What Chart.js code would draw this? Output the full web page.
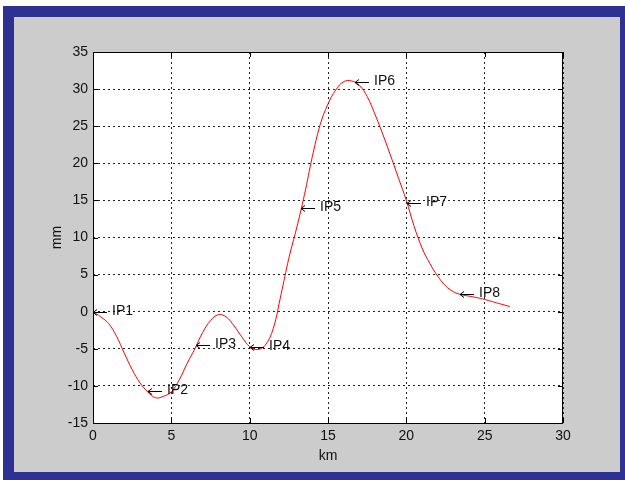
<!DOCTYPE html>
<html>
<head>
<meta charset="utf-8">
<script src="https://cdn.jsdelivr.net/npm/chart.js@4/dist/chart.umd.min.js"></script>
<style>
  html, body { margin: 0; padding: 0; background: #ffffff; }
  canvas { display: block; }
</style>
</head>
<body>
<canvas id="profile" width="625" height="480"></canvas>
<script>
// Profile along the route: distance (km) and offset (mm)
const distanceKm = [0, 0.5, 1.0, 1.5, 2.0, 2.5, 3.0, 3.5, 4.0, 4.5, 5.0, 5.5, 6.0, 6.5, 7.0, 7.5, 8.0, 8.5, 9.0, 9.5, 10.0, 10.5, 11.0, 11.5, 12.0, 12.5, 13.0, 13.5, 14.0, 14.5, 15.0, 15.5, 16.0, 16.5, 17.0, 17.5, 18.0, 18.5, 19.0, 19.5, 20.0, 20.5, 21.0, 21.5, 22.0, 22.5, 23.0, 23.5, 24.0, 24.5, 25.0, 25.5, 26.0, 26.6];
const offsetMm   = [0, -0.7, -1.6, -3.3, -5.6, -7.8, -9.6, -10.8, -11.6, -11.4, -10.8, -9.2, -7.0, -5.0, -2.8, -1.2, -0.4, -0.7, -1.9, -3.4, -4.7, -5.1, -4.5, -2.3, 2.3, 7.2, 11.3, 15.8, 20.9, 25.2, 28.0, 29.9, 31.0, 31.1, 30.5, 29.0, 26.6, 23.9, 21.0, 18.0, 15.0, 11.5, 8.6, 6.5, 4.8, 3.5, 2.7, 2.3, 2.1, 1.9, 1.65, 1.35, 1.05, 0.7];

// Labelled inflection points
const pointNames = ['IP1', 'IP2', 'IP3', 'IP4', 'IP5', 'IP6', 'IP7', 'IP8'];
const pointKm    = [0, 3.5, 6.6, 10.0, 13.3, 16.7, 20.05, 23.4];
const pointMm    = [0, -10.7, -4.5, -4.8, 14.0, 30.9, 14.7, 2.4];

// Axis ranges and tick spacing
const xRange = [0, 30];
const yRange = [-15, 35];
const tickStep = 5;

const FONT = "'Liberation Sans', Arial, Helvetica, sans-serif";
const TEXT = '#111111';

// Window frame, axes box, titles and point labels
const framePlugin = {
  id: 'frame',
  beforeDraw(chart) {
    const { ctx, chartArea: a } = chart;
    ctx.save();
    ctx.fillStyle = '#ffffff';
    ctx.fillRect(0, 0, chart.width, chart.height);
    ctx.fillStyle = '#2e3192';
    ctx.fillRect(3, 6, chart.width - 3, chart.height - 6);
    ctx.fillStyle = '#cccccc';
    ctx.fillRect(14, 17, 606, 455);
    ctx.fillStyle = '#ffffff';
    ctx.fillRect(a.left, a.top, a.right - a.left, a.bottom - a.top);
    ctx.restore();
  },
  beforeDatasetsDraw(chart) {
    const { ctx, chartArea: a, scales } = chart;
    ctx.save();
    ctx.strokeStyle = '#000000';
    ctx.lineWidth = 1;
    ctx.setLineDash([]);
    ctx.strokeRect(a.left + 0.5, a.top + 0.5, a.right - a.left - 1, a.bottom - a.top);
    const len = 5;
    ctx.beginPath();
    scales.x.ticks.forEach(t => {
      const px = Math.round(scales.x.getPixelForValue(t.value)) + 0.5;
      ctx.moveTo(px, a.bottom); ctx.lineTo(px, a.bottom - len);
      ctx.moveTo(px, a.top); ctx.lineTo(px, a.top + len);
    });
    scales.y.ticks.forEach(t => {
      const py = Math.round(scales.y.getPixelForValue(t.value)) + 0.5;
      ctx.moveTo(a.left, py); ctx.lineTo(a.left + len, py);
      ctx.moveTo(a.right, py); ctx.lineTo(a.right - len, py);
    });
    ctx.stroke();

    // axis titles
    ctx.fillStyle = TEXT;
    ctx.font = '14px ' + FONT;
    ctx.textAlign = 'center';
    ctx.textBaseline = 'alphabetic';
    ctx.fillText('km', (a.left + a.right) / 2, 460);
    ctx.translate(61, (a.top + a.bottom) / 2);
    ctx.rotate(-Math.PI / 2);
    ctx.fillText('mm', 0, 0);
    ctx.restore();
  },
  afterDatasetsDraw(chart) {
    const { ctx, scales } = chart;
    ctx.save();
    ctx.fillStyle = TEXT;
    ctx.strokeStyle = '#000000';
    ctx.lineWidth = 1;
    ctx.font = '14px ' + FONT;
    ctx.textAlign = 'left';
    ctx.textBaseline = 'middle';
    pointNames.forEach((name, i) => {
      const px = Math.round(scales.x.getPixelForValue(pointKm[i]));
      const py = Math.round(scales.y.getPixelForValue(pointMm[i])) + 0.5;
      // left-pointing arrow
      ctx.beginPath();
      ctx.moveTo(px, py); ctx.lineTo(px + 14, py);
      ctx.moveTo(px + 4, py - 3); ctx.lineTo(px, py); ctx.lineTo(px + 4, py + 3);
      ctx.stroke();
      ctx.fillText(name, px + 19, py - 1);
    });
    ctx.restore();
  }
};

const tickFont = { family: FONT, size: 14 };

new Chart(document.getElementById('profile').getContext('2d'), {
  type: 'line',
  data: {
    datasets: [{
      data: distanceKm.map((x, i) => ({ x, y: offsetMm[i] })),
      borderColor: '#ff0000',
      borderWidth: 1,
      pointRadius: 0,
      fill: false,
      tension: 0.4
    }]
  },
  options: {
    responsive: false,
    animation: false,
    devicePixelRatio: 1,
    layout: { padding: { left: 0, right: 62, top: 52, bottom: 0 } },
    plugins: { legend: { display: false }, tooltip: { enabled: false } },
    scales: {
      x: {
        type: 'linear',
        min: xRange[0], max: xRange[1],
        ticks: { stepSize: tickStep, color: TEXT, font: tickFont, padding: 5, maxRotation: 0 },
        grid: { color: '#222222', lineWidth: 1, drawTicks: false },
        border: { display: false, dash: [2, 3] },
        afterFit(s) { s.height = 57; }
      },
      y: {
        type: 'linear',
        min: yRange[0], max: yRange[1],
        ticks: { stepSize: tickStep, color: TEXT, font: tickFont, padding: 5 },
        grid: { color: '#222222', lineWidth: 1, drawTicks: false },
        border: { display: false, dash: [2, 3] },
        afterFit(s) { s.width = 93; }
      }
    }
  },
  plugins: [framePlugin]
});
</script>
</body>
</html>
